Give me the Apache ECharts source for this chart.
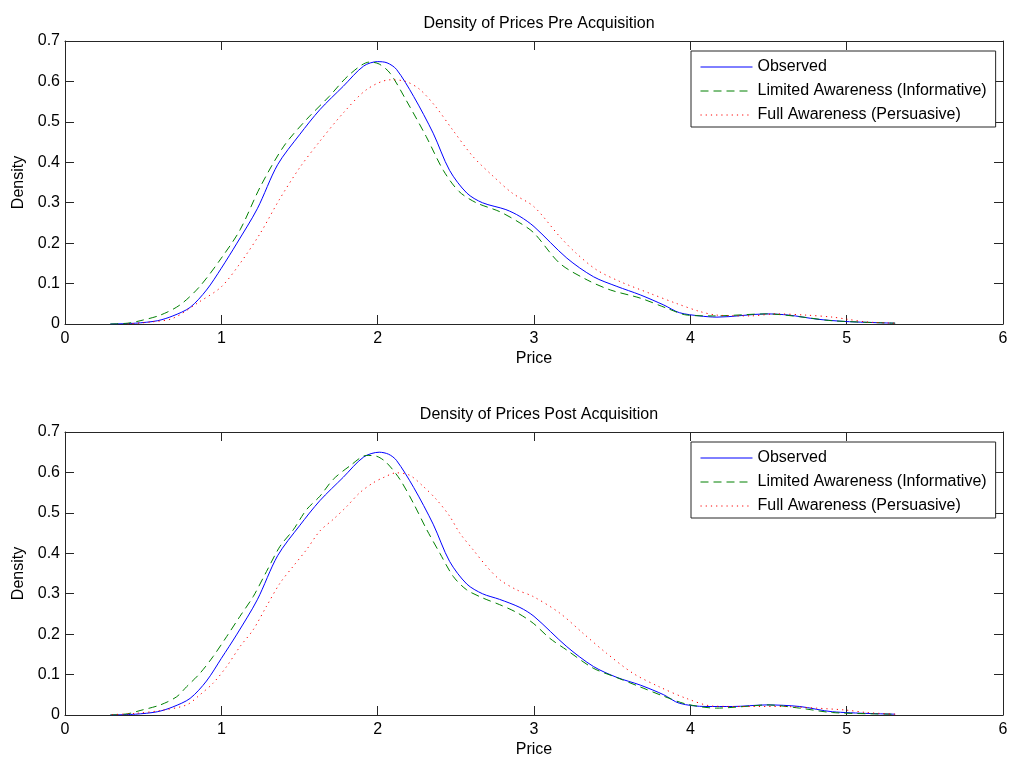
<!DOCTYPE html>
<html>
<head>
<meta charset="utf-8">
<script src="https://cdn.jsdelivr.net/npm/echarts@6/dist/echarts.min.js"></script>
<style>
html,body{margin:0;padding:0;background:#fff;}
#chart{width:1011px;height:765px;}
</style>
</head>
<body>
<div id="chart"></div>
<script>
const seriesNames = ['Observed', 'Limited Awareness (Informative)', 'Full Awareness (Persuasive)'];
const titles = ['Density of Prices Pre Acquisition', 'Density of Prices Post Acquisition'];
const xTicks = [0, 1, 2, 3, 4, 5, 6];
const yTicks = [0, 0.1, 0.2, 0.3, 0.4, 0.5, 0.6, 0.7];

const preObserved = [[0.29,0],[0.45,0.002],[0.59,0.008],[0.69,0.02],[0.80,0.041],[0.905,0.084],[1.0,0.138],[1.10,0.20],[1.23,0.285],[1.36,0.394],[1.50,0.468],[1.63,0.53],[1.78,0.588],[1.91,0.638],[2.0,0.649],[2.06,0.646],[2.12,0.63],[2.23,0.563],[2.355,0.472],[2.46,0.38],[2.57,0.324],[2.67,0.30],[2.82,0.283],[2.91,0.266],[3.0,0.241],[3.21,0.163],[3.38,0.117],[3.53,0.093],[3.68,0.072],[3.83,0.047],[3.93,0.028],[4.06,0.02],[4.17,0.017],[4.49,0.025],[4.63,0.022],[4.81,0.012],[5.0,0.006],[5.31,0.002]];
const preLimited = [[0.29,0],[0.40,0.002],[0.48,0.008],[0.61,0.022],[0.735,0.047],[0.86,0.092],[1.0,0.163],[1.12,0.233],[1.25,0.34],[1.40,0.44],[1.545,0.506],[1.69,0.563],[1.82,0.617],[1.95,0.648],[2.01,0.643],[2.08,0.62],[2.18,0.555],[2.31,0.464],[2.42,0.38],[2.52,0.328],[2.63,0.30],[2.78,0.278],[2.91,0.25],[3.0,0.225],[3.165,0.15],[3.34,0.109],[3.49,0.084],[3.68,0.064],[3.85,0.039],[3.98,0.022],[4.15,0.02],[4.49,0.025],[4.70,0.018],[4.91,0.008],[5.31,0.002]];
const preFull = [[0.40,0],[0.55,0.005],[0.69,0.014],[0.86,0.055],[1.0,0.092],[1.12,0.15],[1.25,0.225],[1.37,0.307],[1.50,0.386],[1.63,0.452],[1.78,0.522],[1.93,0.58],[2.08,0.604],[2.18,0.60],[2.27,0.58],[2.37,0.538],[2.48,0.48],[2.61,0.414],[2.74,0.365],[2.86,0.324],[3.0,0.29],[3.165,0.216],[3.27,0.175],[3.40,0.134],[3.55,0.105],[3.74,0.076],[3.91,0.051],[4.06,0.031],[4.17,0.022],[4.38,0.02],[4.55,0.025],[4.74,0.022],[4.91,0.017],[5.0,0.012],[5.13,0.005],[5.31,0.002]];

const postObserved = [[0.29,0],[0.45,0.002],[0.59,0.008],[0.69,0.02],[0.80,0.041],[0.905,0.084],[1.0,0.14],[1.10,0.20],[1.23,0.285],[1.36,0.394],[1.50,0.468],[1.63,0.53],[1.78,0.588],[1.91,0.638],[2.01,0.65],[2.07,0.645],[2.12,0.63],[2.23,0.563],[2.355,0.472],[2.46,0.38],[2.57,0.324],[2.67,0.30],[2.78,0.286],[2.91,0.266],[3.0,0.244],[3.21,0.169],[3.38,0.12],[3.53,0.093],[3.68,0.074],[3.83,0.05],[3.93,0.029],[4.10,0.021],[4.27,0.021],[4.49,0.025],[4.70,0.021],[4.91,0.008],[5.31,0.002]];
const postLimited = [[0.29,0],[0.40,0.003],[0.48,0.011],[0.61,0.025],[0.714,0.045],[0.778,0.07],[0.863,0.103],[0.948,0.145],[1.034,0.194],[1.119,0.244],[1.204,0.293],[1.289,0.355],[1.375,0.417],[1.46,0.458],[1.545,0.508],[1.63,0.541],[1.716,0.583],[1.822,0.616],[1.929,0.642],[1.993,0.64],[2.057,0.624],[2.142,0.583],[2.227,0.525],[2.313,0.459],[2.398,0.40],[2.483,0.343],[2.568,0.31],[2.675,0.289],[2.78,0.273],[2.887,0.254],[2.995,0.227],[3.10,0.19],[3.208,0.161],[3.378,0.116],[3.527,0.093],[3.676,0.07],[3.826,0.047],[3.975,0.027],[4.166,0.017],[4.38,0.022],[4.486,0.025],[4.70,0.017],[4.91,0.006],[5.31,0.002]];
const postFull = [[0.30,0.001],[0.45,0.004],[0.61,0.011],[0.778,0.025],[0.863,0.05],[0.948,0.079],[1.034,0.12],[1.119,0.169],[1.204,0.211],[1.289,0.269],[1.375,0.326],[1.46,0.368],[1.545,0.409],[1.63,0.455],[1.716,0.484],[1.80,0.515],[1.886,0.55],[1.97,0.574],[2.035,0.587],[2.12,0.599],[2.205,0.593],[2.29,0.566],[2.376,0.533],[2.46,0.492],[2.525,0.45],[2.61,0.409],[2.696,0.368],[2.78,0.335],[2.887,0.31],[2.995,0.293],[3.165,0.252],[3.314,0.202],[3.463,0.153],[3.634,0.103],[3.80,0.07],[3.975,0.041],[4.145,0.022],[4.38,0.021],[4.59,0.021],[4.806,0.017],[5.0,0.012],[5.13,0.006],[5.31,0.002]];

const panels = [
  {title: titles[0], data: [preObserved, preLimited, preFull]},
  {title: titles[1], data: [postObserved, postLimited, postFull]}
];

const FONT = '"Liberation Sans", Arial, sans-serif';
const AX = '#262626';
const gridTops = [41, 432];
const gridH = 283;
const styles = [
  {color: '#0000ff', type: 'solid'},
  {color: '#008000', type: [8, 5]},
  {color: '#ff0000', type: [1.2, 4]}
];

const chart = echarts.init(document.getElementById('chart'), null, {renderer: 'canvas'});

const grid = [], xAxis = [], yAxis = [], series = [], title = [], legend = [];
panels.forEach((p, i) => {
  grid.push({left: 65, top: gridTops[i], width: 938, height: gridH, show: false, containLabel: false});
  const xBase = {
    gridIndex: i, type: 'value', min: xTicks[0], max: xTicks[xTicks.length - 1], interval: 1,
    splitLine: {show: false},
    axisLine: {show: true, onZero: false, lineStyle: {color: AX, width: 1}},
    axisTick: {show: true, inside: true, length: 9, lineStyle: {color: AX}}
  };
  xAxis.push(Object.assign({}, xBase, {
    position: 'bottom',
    name: 'Price', nameLocation: 'middle', nameGap: 27,
    nameTextStyle: {color: '#000', fontSize: 16, fontFamily: FONT},
    axisLabel: {show: true, color: '#000', fontSize: 16, fontFamily: FONT, margin: 7}
  }));
  xAxis.push(Object.assign({}, xBase, {position: 'top', axisLabel: {show: false}}));
  const yBase = {
    gridIndex: i, type: 'value', min: yTicks[0], max: yTicks[yTicks.length - 1], interval: 0.1,
    splitLine: {show: false},
    axisLine: {show: true, onZero: false, lineStyle: {color: AX, width: 1}},
    axisTick: {show: true, inside: true, length: 9, lineStyle: {color: AX}}
  };
  yAxis.push(Object.assign({}, yBase, {
    position: 'left',
    name: 'Density', nameLocation: 'middle', nameGap: 37, nameRotate: 90,
    nameTextStyle: {color: '#000', fontSize: 16, fontFamily: FONT},
    axisLabel: {show: true, color: '#000', fontSize: 16, fontFamily: FONT, margin: 5,
      formatter: v => String(Math.round(v * 10) / 10)}
  }));
  yAxis.push(Object.assign({}, yBase, {position: 'right', axisLabel: {show: false}}));
  title.push({
    text: p.title, left: 534, top: gridTops[i] - 30, textAlign: 'center',
    textStyle: {color: '#000', fontSize: 16, fontWeight: 'normal', fontFamily: FONT}
  });
  legend.push({
    data: seriesNames, orient: 'vertical', left: 691, top: gridTops[i] + 10,
    backgroundColor: '#fff', borderColor: AX, borderWidth: 1,
    padding: [8, 9, 4, 9], itemWidth: 52, itemHeight: 14, itemGap: 8,
    itemStyle: {opacity: 0, borderWidth: 0},
    lineStyle: {width: 1},
    textStyle: {color: '#000', fontSize: 16, fontFamily: FONT},
    selectedMode: false
  });
  p.data.forEach((d, k) => {
    series.push({
      name: seriesNames[k], type: 'line', xAxisIndex: i * 2, yAxisIndex: i * 2,
      data: d, symbol: 'none', showSymbol: false, smooth: 0.3,
      lineStyle: {color: styles[k].color, width: 1, type: styles[k].type},
      itemStyle: {color: styles[k].color},
      animation: false, z: 3
    });
  });
});

chart.setOption({
  backgroundColor: '#fff',
  animation: false,
  title, grid, xAxis, yAxis, legend, series
});
</script>
</body>
</html>
